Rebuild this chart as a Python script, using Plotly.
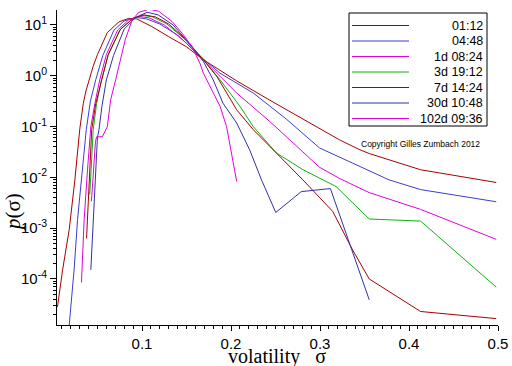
import plotly.graph_objects as go

# ---------------- data ----------------
labels = ["01:12", "04:48", "1d 08:24", "3d 19:12", "7d 14:24", "30d 10:48", "102d 09:36"]
colors = ["#a80000", "#3c3cd0", "#e000e0", "#10b010", "#a80000", "#3030a8", "#e000e0"]

sig_0112 = [0.005, 0.0108, 0.0182, 0.0246, 0.0300, 0.0340, 0.0370, 0.0410, 0.0450, 0.0500, 0.0610,
            0.0740, 0.0850, 0.0940, 0.1110, 0.1300, 0.1500, 0.1690, 0.2064, 0.2436, 0.2808, 0.2994,
            0.3218, 0.3440, 0.3553, 0.4130, 0.4980]
lgp_0112 = [-4.55, -3.82, -3.03, -2.05, -1.06, -0.55, -0.30, -0.05, 0.18, 0.42, 0.85,
            1.06, 1.13, 1.12, 0.97, 0.77, 0.57, 0.315, -0.10, -0.48, -0.85, -1.05,
            -1.26, -1.45, -1.53, -1.85, -2.10]

sig_0448 = [0.0180, 0.0238, 0.0276, 0.0332, 0.0374, 0.0420, 0.0480, 0.0560, 0.0685, 0.0800, 0.0930,
            0.1050, 0.1200, 0.1400, 0.1690, 0.1877, 0.2250, 0.2620, 0.2994, 0.3367, 0.3777, 0.4130, 0.4980]
lgp_0448 = [-4.95, -3.80, -2.83, -1.85, -1.06, -0.50, -0.08, 0.40, 0.90, 1.08, 1.15,
            1.12, 1.02, 0.80, 0.33, 0.05, -0.34, -0.85, -1.42, -1.72, -2.05, -2.24, -2.48]

sig_1d = [0.0320, 0.0350, 0.0388, 0.0425, 0.0470, 0.0525, 0.0600, 0.0726, 0.0850, 0.0965, 0.1080,
          0.1250, 0.1450, 0.1690, 0.1877, 0.2064, 0.2436, 0.2808, 0.2994, 0.3218, 0.3553, 0.4130, 0.4980]
lgp_1d = [-4.07, -2.83, -1.85, -1.00, -0.55, -0.08, 0.42, 0.90, 1.10, 1.17, 1.14,
          1.00, 0.72, 0.315, -0.01, -0.34, -0.90, -1.50, -1.80, -2.02, -2.30, -2.63, -3.22]

sig_3d = [0.0413, 0.0452, 0.0490, 0.0544, 0.0620, 0.0750, 0.0880, 0.1000, 0.1120, 0.1280, 0.1480,
          0.1690, 0.1877, 0.2100, 0.2250, 0.2510, 0.2810, 0.3030, 0.3180, 0.3553, 0.4130, 0.4980]
lgp_3d = [-2.34, -1.06, -0.55, -0.08, 0.40, 0.90, 1.10, 1.19, 1.16, 1.02, 0.72,
          0.315, -0.08, -0.60, -1.00, -1.52, -1.85, -2.05, -2.18, -2.82, -2.86, -4.16]

sig_7d = [0.0377, 0.0435, 0.0480, 0.0545, 0.0620, 0.0760, 0.0900, 0.1020, 0.1150, 0.1300, 0.1500,
          0.1690, 0.1840, 0.2064, 0.2250, 0.2436, 0.2660, 0.2808, 0.3143, 0.3367, 0.3553, 0.4130, 0.4980]
lgp_7d = [-3.20, -1.06, -0.55, -0.08, 0.42, 0.92, 1.13, 1.20, 1.16, 1.02, 0.70,
          0.315, -0.01, -0.67, -1.06, -1.39, -1.79, -2.05, -2.67, -3.43, -4.00, -4.64, -4.78]

sig_30d = [0.0425, 0.0499, 0.0517, 0.0550, 0.0600, 0.0680, 0.0800, 0.0930, 0.1058, 0.1180, 0.1350,
           0.1540, 0.1690, 0.1800, 0.1910, 0.2064, 0.2210, 0.2343, 0.2503, 0.2790, 0.3117, 0.3553]
lgp_30d = [-3.82, -1.22, -1.06, -0.60, -0.08, 0.40, 0.92, 1.15, 1.25, 1.20, 1.00,
           0.62, 0.28, -0.08, -0.54, -0.93, -1.46, -2.05, -2.69, -2.28, -2.22, -4.41]

sig_102d = [0.0432, 0.0477, 0.0490, 0.0555, 0.0611, 0.0648, 0.0704, 0.0760, 0.0813, 0.0890, 0.0965,
            0.1077, 0.1188, 0.1337, 0.1450, 0.1560, 0.1650, 0.1690, 0.1877, 0.1950, 0.2064]
lgp_102d = [-2.47, -1.30, -1.20, -1.20, -1.00, -0.47, -0.08, 0.31, 0.72, 1.10, 1.25,
            1.31, 1.27, 1.07, 0.84, 0.58, 0.25, 0.05, -0.60, -1.00, -2.08]

series = [(sig_0112, lgp_0112), (sig_0448, lgp_0448), (sig_1d, lgp_1d), (sig_3d, lgp_3d),
          (sig_7d, lgp_7d), (sig_30d, lgp_30d), (sig_102d, lgp_102d)]

x_ticks = [0.1, 0.2, 0.3, 0.4, 0.5]
y_tick_exponents = [-4, -3, -2, -1, 0, 1]

# ---------------- figure ----------------
W, H = 512, 366
L, R, T, B = 57, 14, 10, 41
PW, PH = W - L - R, H - T - B


def px(xp):
    return (xp - L) / PW


def py(yp):
    return (H - B - yp) / PH


fig = go.Figure()
for (sx, lg), c, name in zip(series, colors, labels):
    fig.add_trace(go.Scatter(x=sx, y=[10 ** v for v in lg], mode="lines", name=name,
                             line=dict(color=c, width=1), showlegend=False, hoverinfo="skip"))

tickfont = dict(family="Liberation Sans, Arial, sans-serif", size=15, color="black")

fig.update_layout(
    width=W, height=H,
    margin=dict(l=L, r=R, t=T, b=B, pad=0),
    plot_bgcolor="white", paper_bgcolor="white",
    showlegend=False,
    xaxis=dict(range=[0.0045, 0.5], tickvals=x_ticks, ticktext=[str(v) for v in x_ticks],
               ticks="outside", ticklen=5, tickcolor="black", tickwidth=1,
               showline=True, linecolor="black", linewidth=1, showgrid=False, zeroline=False,
               minor=dict(tick0=0, dtick=0.01, ticks="outside", ticklen=3, tickcolor="black", showgrid=False),
               tickfont=tickfont, automargin=False),
    yaxis=dict(type="log", range=[-4.906, 1.295],
               tickvals=[10.0 ** e for e in y_tick_exponents],
               ticktext=["10<sup>%d</sup>" % e for e in y_tick_exponents],
               ticks="outside", ticklen=6, tickcolor="black", tickwidth=1,
               showline=True, linecolor="black", linewidth=1, showgrid=False, zeroline=False,
               minor=dict(dtick="D1", ticks="outside", ticklen=3, tickcolor="black", showgrid=False),
               tickfont=tickfont, automargin=False),
)

shapes = []
annotations = []

# legend box
shapes.append(dict(type="rect", xref="paper", yref="paper", x0=px(349), x1=px(487), y0=py(126), y1=py(13),
                   line=dict(color="black", width=1), fillcolor="white", layer="above"))
row0, dy = 25.5, 15.5
for i, (name, c) in enumerate(zip(labels, colors)):
    yy = row0 + i * dy
    shapes.append(dict(type="line", xref="paper", yref="paper", x0=px(352), x1=px(409), y0=py(yy), y1=py(yy),
                       line=dict(color=c, width=1), layer="above"))
    annotations.append(dict(xref="paper", yref="paper", x=px(485), y=py(yy), text=name, showarrow=False,
                            xanchor="right", yanchor="middle",
                            font=dict(family="Liberation Sans, Arial, sans-serif", size=12.5, color="black")))

annotations.append(dict(xref="paper", yref="paper", x=px(420), y=py(144), text="Copyright Gilles Zumbach 2012",
                        showarrow=False, xanchor="center", yanchor="middle",
                        font=dict(family="Liberation Sans, Arial, sans-serif", size=8.5, color="black")))

annotations.append(dict(xref="paper", yref="paper", x=px(277), y=py(356), text="volatility\u00a0\u00a0 σ",
                        showarrow=False, xanchor="center", yanchor="middle",
                        font=dict(family="Liberation Serif, Times New Roman, serif", size=20, color="black")))

annotations.append(dict(xref="paper", yref="paper", x=px(13), y=py(212), text="<i>p</i>(σ)", textangle=-90,
                        showarrow=False, xanchor="center", yanchor="middle",
                        font=dict(family="Liberation Serif, Times New Roman, serif", size=21, color="black")))

fig.update_layout(shapes=shapes, annotations=annotations)
fig.write_html("out.html", config={"displayModeBar": False},
               post_script="document.body.style.margin='0';")
